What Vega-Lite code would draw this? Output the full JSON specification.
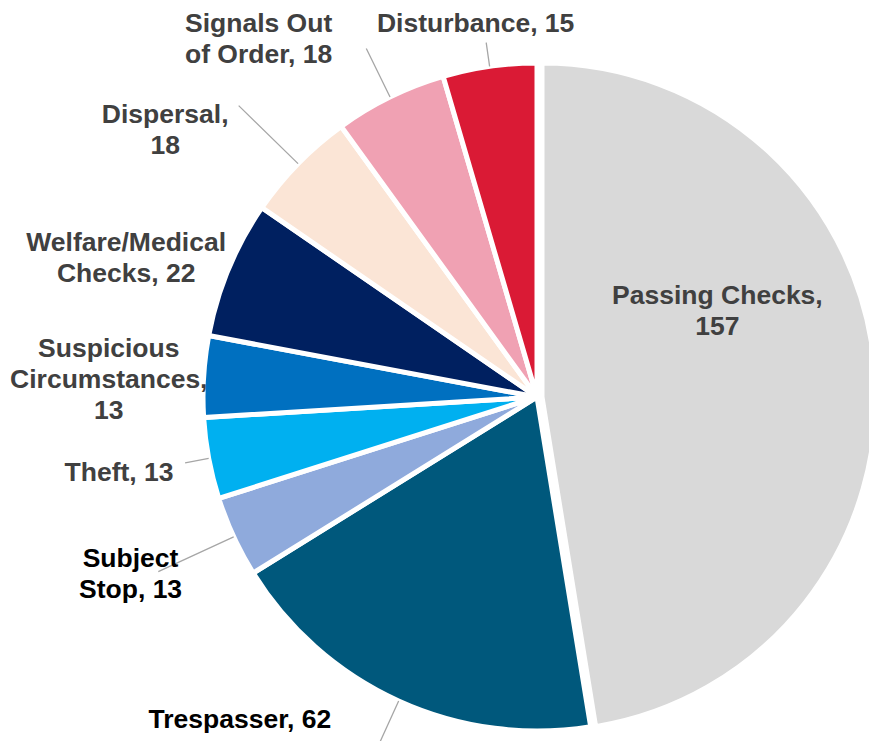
{
  "$schema": "https://vega.github.io/schema/vega-lite/v6.json",
  "width": 664,
  "height": 688,
  "autosize": {"type": "none"},
  "padding": {"left": 205, "top": 53, "right": 0, "bottom": 0},
  "background": "white",
  "config": {
    "view": {"stroke": null},
    "text": {"font": "Liberation Sans", "fontWeight": "bold", "fontSize": 26.5, "lineHeight": 31, "lineBreak": "\n", "baseline": "top", "align": "center", "color": "#404040"}
  },
  "data": {
    "values": [
      {"idx": 1, "category": "Passing Checks", "value": 157, "label": "Passing Checks,\n157"},
      {"idx": 2, "category": "Trespasser", "value": 62, "label": "Trespasser, 62"},
      {"idx": 3, "category": "Subject Stop", "value": 13, "label": "Subject\nStop, 13"},
      {"idx": 4, "category": "Theft", "value": 13, "label": "Theft, 13"},
      {"idx": 5, "category": "Suspicious Circumstances", "value": 13, "label": "Suspicious\nCircumstances,\n13"},
      {"idx": 6, "category": "Welfare/Medical Checks", "value": 22, "label": "Welfare/Medical\nChecks, 22"},
      {"idx": 7, "category": "Dispersal", "value": 18, "label": "Dispersal,\n18"},
      {"idx": 8, "category": "Signals Out of Order", "value": 18, "label": "Signals Out\nof Order, 18"},
      {"idx": 9, "category": "Disturbance", "value": 15, "label": "Disturbance, 15"}
    ]
  },
  "encoding": {
    "theta": {"field": "value", "type": "quantitative", "stack": true},
    "order": {"field": "idx", "type": "quantitative"}
  },
  "layer": [
    {
      "mark": {"type": "arc", "outerRadius": 334, "stroke": "white", "strokeWidth": 5},
      "encoding": {
        "color": {"field": "category", "type": "nominal", "legend": null,
          "scale": {"domain": ["Passing Checks", "Trespasser", "Subject Stop", "Theft", "Suspicious Circumstances", "Welfare/Medical Checks", "Dispersal", "Signals Out of Order", "Disturbance"],
                    "range": ["#D9D9D9", "#00587C", "#8FAADC", "#00B0F0", "#0070C0", "#002060", "#FBE5D6", "#F0A1B3", "#DA1A35"]}},
        "opacity": {"condition": {"test": "datum.category === 'Passing Checks'", "value": 0}, "value": 1}
      }
    },
    {
      "mark": {"type": "arc", "outerRadius": 334, "stroke": "white", "strokeWidth": 5, "xOffset": 5, "yOffset": 0},
      "encoding": {
        "color": {"field": "category", "type": "nominal", "legend": null},
        "opacity": {"condition": {"test": "datum.category === 'Passing Checks'", "value": 1}, "value": 0}
      }
    },
    {
      "mark": {"type": "arc", "innerRadius": 334, "outerRadius": 358, "padAngle": 3.1, "stroke": "#A6A6A6", "strokeWidth": 1.3, "fillOpacity": 0},
      "encoding": {"opacity": {"condition": {"test": "datum.category === 'Disturbance' || datum.category === 'Theft'", "value": 1}, "value": 0}}
    },
    {
      "mark": {"type": "arc", "innerRadius": 334, "outerRadius": 388, "padAngle": 3.1, "stroke": "#A6A6A6", "strokeWidth": 1.3, "fillOpacity": 0},
      "encoding": {"opacity": {"condition": {"test": "datum.category === 'Signals Out of Order' || datum.category === 'Trespasser'", "value": 1}, "value": 0}}
    },
    {
      "mark": {"type": "arc", "innerRadius": 334, "outerRadius": 417, "padAngle": 3.1, "stroke": "#A6A6A6", "strokeWidth": 1.3, "fillOpacity": 0},
      "encoding": {"opacity": {"condition": {"test": "datum.category === 'Dispersal' || datum.category === 'Subject Stop'", "value": 1}, "value": 0}}
    },
    {
      "mark": {"type": "text", "radius": 185, "dx": -4, "dy": -99},
      "encoding": {"text": {"condition": {"test": "datum.category === 'Passing Checks'", "field": "label"}, "value": ""}}
    },
    {
      "mark": {"type": "text", "radius": 355, "dx": -150, "dy": -13, "color": "#000000"},
      "encoding": {"text": {"condition": {"test": "datum.category === 'Trespasser'", "field": "label"}, "value": ""}}
    },
    {
      "mark": {"type": "text", "radius": 420, "dx": -25, "dy": -27, "color": "#000000"},
      "encoding": {"text": {"condition": {"test": "datum.category === 'Subject Stop'", "field": "label"}, "value": ""}}
    },
    {
      "mark": {"type": "text", "radius": 410, "dx": -15, "dy": -12},
      "encoding": {"text": {"condition": {"test": "datum.category === 'Theft'", "field": "label"}, "value": ""}}
    },
    {
      "mark": {"type": "text", "radius": 420, "dx": -9, "dy": -35},
      "encoding": {"text": {"condition": {"test": "datum.category === 'Suspicious Circumstances'", "field": "label"}, "value": ""}}
    },
    {
      "mark": {"type": "text", "radius": 420, "dx": -23, "dy": -6},
      "encoding": {"text": {"condition": {"test": "datum.category === 'Welfare/Medical Checks'", "field": "label"}, "value": ""}}
    },
    {
      "mark": {"type": "text", "radius": 440, "dx": -57, "dy": 12},
      "encoding": {"text": {"condition": {"test": "datum.category === 'Dispersal'", "field": "label"}, "value": ""}}
    },
    {
      "mark": {"type": "text", "radius": 410, "dx": -98, "dy": -18},
      "encoding": {"text": {"condition": {"test": "datum.category === 'Signals Out of Order'", "field": "label"}, "value": ""}}
    },
    {
      "mark": {"type": "text", "radius": 376, "dx": -8, "dy": -14},
      "encoding": {"text": {"condition": {"test": "datum.category === 'Disturbance'", "field": "label"}, "value": ""}}
    }
  ]
}
